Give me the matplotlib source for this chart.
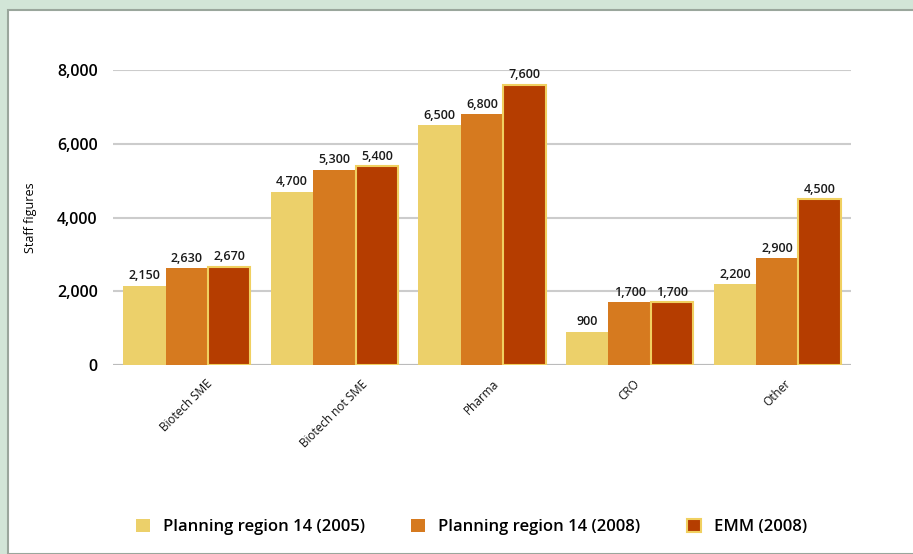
import matplotlib.pyplot as plt
import numpy as np
from matplotlib.patches import Rectangle

categories = ["Biotech SME", "Biotech not SME", "Pharma", "CRO", "Other"]
series_names = ["Planning region 14 (2005)", "Planning region 14 (2008)", "EMM (2008)"]
pr14_2005 = [2150, 4700, 6500, 900, 2200]
pr14_2008 = [2630, 5300, 6800, 1700, 2900]
emm_2008 = [2670, 5400, 7600, 1700, 4500]
yticks = [0, 2000, 4000, 6000, 8000]

colors = ["#ecd06a", "#d67a1f", "#b53d00"]
edge_yellow = "#f0d060"

plt.rcParams['font.family'] = ['Open Sans', 'DejaVu Sans']

fig = plt.figure(figsize=(9.13, 5.54), dpi=100)
fig.patch.set_facecolor("#d2e5d7")
# white panel with thin grey border on top/left
fig.patches.append(Rectangle((8 / 913, 0), 1, 1 - 10 / 554, transform=fig.transFigure,
                             facecolor="white", edgecolor="#9aa69c", linewidth=1.5, zorder=-5))

ax = fig.add_axes([113 / 913, 1 - 365 / 554, 738 / 913, 295 / 554])
ax.set_facecolor("none")

x = np.arange(len(categories))
w = 0.287
data = [pr14_2005, pr14_2008, emm_2008]
bars = []
for i, vals in enumerate(data):
    ec = edge_yellow if i == 2 else "none"
    lw = 1.5 if i == 2 else 0
    b = ax.bar(x + (i - 1) * w, vals, width=w, color=colors[i], edgecolor=ec,
               linewidth=lw, zorder=3, label=series_names[i])
    bars.append(b)
    for xi, v in zip(x + (i - 1) * w, vals):
        ax.text(xi, v + 90, f"{v:,}", ha="center", va="bottom", fontsize=9,
                fontweight="semibold", color="#1a1a1a", zorder=4)

ax.set_xlim(-0.5, len(categories) - 0.5)
ax.set_ylim(0, 8000)
ax.set_yticks(yticks)
ax.set_yticklabels([f"{t:,}" for t in yticks], fontsize=11.5, fontweight="semibold")
ax.yaxis.grid(True, color="#cccccc", linewidth=1.5, zorder=0)
ax.set_axisbelow(True)
ax.tick_params(axis="y", length=0, pad=11)
ax.tick_params(axis="x", length=0, pad=9)
ax.set_xticks(x)
ax.set_xticklabels(categories, rotation=45, ha="center", va="top", fontsize=8.5,
                   fontweight="medium", color="#111111")
for s in ax.spines.values():
    s.set_visible(False)
ax.axhline(0, color="#bbbbbb", linewidth=1.5, zorder=2)
ax.set_ylabel("Staff figures", fontsize=9)
ax.yaxis.set_label_coords((37 - 113) / 738, 0.5)

fig.legend(handles=bars, labels=series_names, loc="center", ncol=3,
           bbox_to_anchor=(0.5164, 1 - 527 / 554), frameon=False,
           handlelength=0.84, handleheight=0.84, columnspacing=2.8, handletextpad=0.78,
           prop={"weight": "semibold", "size": 12})

fig.savefig("out.png", dpi=100, facecolor=fig.get_facecolor())
